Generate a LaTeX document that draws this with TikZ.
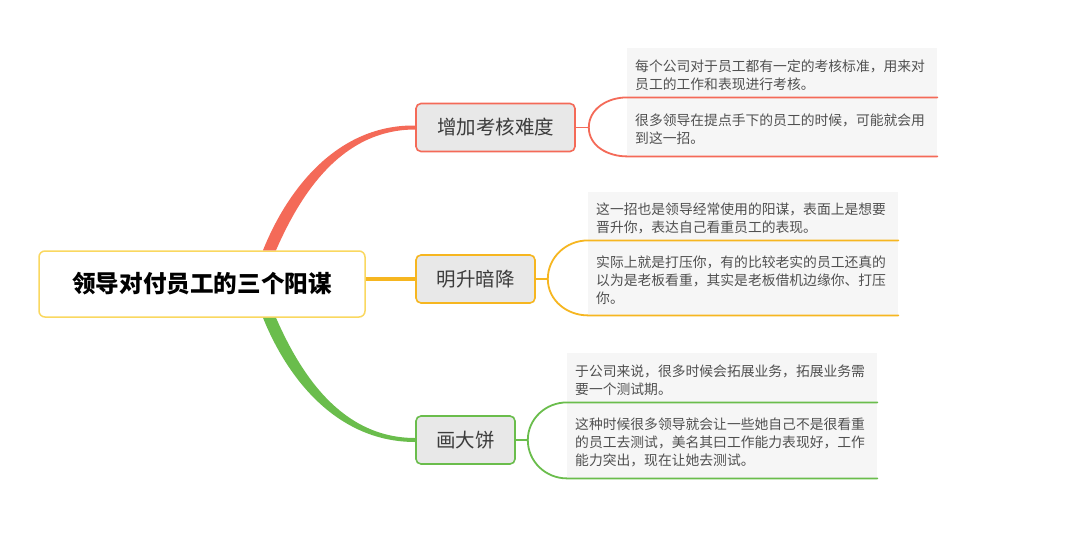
\documentclass[tikz,border=0pt]{standalone}
\usepackage{fontspec}
\setmainfont{Noto Sans CJK SC}
\usetikzlibrary{calc}
\definecolor{cred}{RGB}{244,106,88}
\definecolor{corange}{RGB}{246,182,32}
\definecolor{cgreen}{RGB}{106,189,76}
\definecolor{cyellow}{RGB}{250,216,96}
\definecolor{cgray}{RGB}{232,232,232}
\definecolor{cbg}{RGB}{246,246,246}
\definecolor{ctopic}{RGB}{60,60,60}
\definecolor{cdetail}{RGB}{80,80,80}
\begin{document}
\begin{tikzpicture}[x=1pt,y=-1pt,
  rootbox/.style={draw=cyellow, line width=1.5pt, rounded corners=6pt, fill=white,
    minimum width=326pt, minimum height=66pt, inner sep=0pt,
    font=\fontsize{23.6}{28}\selectfont\bfseries, text=black},
  topicbox/.style={line width=1.6pt, rounded corners=5pt, fill=cgray,
    minimum height=48pt, inner sep=0pt, font=\fontsize{19.5}{22}\selectfont, text=ctopic},
  detail/.style={fill=cbg, anchor=north west, inner xsep=8pt, inner ysep=0pt,
    text width=294pt, align=left, font=\fontsize{13.8}{18}\selectfont, text=cdetail,
    execute at begin node={\rule{0pt}{16pt}}},
  brace/.style={line width=1.8pt, line cap=round},
  stem/.style={line width=1.8pt}
]
\fill[white] (0,0) rectangle (1071,533);
\useasboundingbox (0,0) rectangle (1071,533);

% detail texts
\node[detail, minimum height=49pt] (t11) at (627,48) {每个公司对于员工都有一定的考核标准，用来对\\员工的工作和表现进行考核。};
\node[detail, minimum height=59pt] (t12) at (627,97) {很多领导在提点手下的员工的时候，可能就会用\\到这一招。};
\node[detail, minimum height=48pt] (t21) at (588,192) {这一招也是领导经常使用的阳谋，表面上是想要\\晋升你，表达自己看重员工的表现。};
\node[detail, minimum height=75pt] (t22) at (588,240) {实际上就是打压你，有的比较老实的员工还真的\\以为是老板看重，其实是老板借机边缘你、打压\\你。};
\node[detail, minimum height=49pt] (t31) at (567,353) {于公司来说，很多时候会拓展业务，拓展业务需\\要一个测试期。};
\node[detail, minimum height=76pt] (t32) at (567,402) {这种时候很多领导就会让一些她自己不是很看重\\的员工去测试，美名其曰工作能力表现好，工作\\能力突出，现在让她去测试。};

% root and topics
\node[rootbox] (root) at (202,284) {领导对付员工的三个阳谋};
\node[topicbox, draw=cred, minimum width=159pt] (b1) at (495.5,127.5) {增加考核难度};
\node[topicbox, draw=corange, minimum width=119pt] (b2) at (475.5,279) {明升暗降};
\node[topicbox, draw=cgreen, minimum width=99pt] (b3) at (465.5,440) {画大饼};

% main connectors (tapered)
\fill[cred] ($(root.north)+(61,0)$) .. controls (288,188) and (338,124.5) .. ($(b1.west)+(0,-2)$)
  -- ($(b1.west)+(0,2)$) .. controls (342,129.5) and (301,193) .. ($(root.north)+(74,0)$) -- cycle;
\fill[cgreen] ($(root.south)+(61,0)$) .. controls (288,380) and (338,442) .. ($(b3.west)+(0,2)$)
  -- ($(b3.west)+(0,-2)$) .. controls (342,438) and (301,375) .. ($(root.south)+(74,0)$) -- cycle;
\draw[corange, line width=4.5pt] (root.east |- b2.west) -- (b2.west);

% red braces
\draw[cred, stem] (b1.east) -- ++(13,0) coordinate (j1);
\draw[cred, brace] (j1) to[out=90,in=180] (t11.south west) -- (t11.south east);
\draw[cred, brace] (j1) to[out=-90,in=180] (t12.south west) -- (t12.south east);
% orange braces
\draw[corange, stem] (b2.east) -- ++(12,0) coordinate (j2);
\draw[corange, brace] (j2) to[out=90,in=180] (t21.south west) -- (t21.south east);
\draw[corange, brace] (j2) to[out=-90,in=180] (t22.south west) -- (t22.south east);
% green braces
\draw[cgreen, stem] (b3.east) -- ++(12,0) coordinate (j3);
\draw[cgreen, brace] (j3) to[out=90,in=180] (t31.south west) -- (t31.south east);
\draw[cgreen, brace] (j3) to[out=-90,in=180] (t32.south west) -- (t32.south east);
\end{tikzpicture}
\end{document}
